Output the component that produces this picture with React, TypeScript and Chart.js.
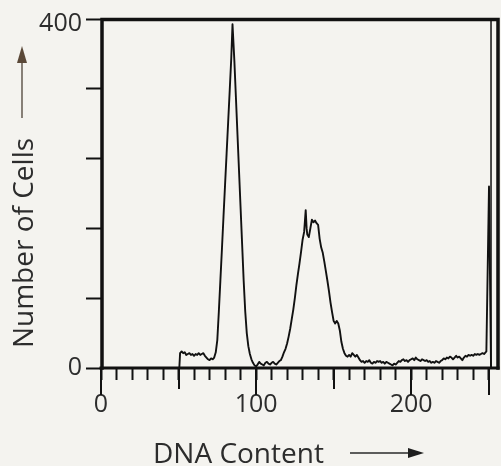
import { useEffect, useRef } from 'react';
import { Chart, registerables } from 'chart.js';

Chart.register(...registerables);

// ---- data ----
const dnaContent = [
  0, 50.5, 51, 52, 53, 54, 55, 56, 57, 58, 59, 60, 61, 62, 63, 64, 65, 66, 67, 68, 69, 70, 71, 72, 73, 74,
  75, 76, 77, 78, 79, 80, 81, 82, 83, 84, 84.8, 86, 87, 88, 89, 90, 91, 92, 93, 94, 95, 96, 97, 98, 99,
  100, 101, 102, 103, 104, 105, 106, 107, 108, 109, 110, 111, 112, 113, 114, 115,
  116, 117, 118, 119, 120, 121, 122, 123, 124, 125, 126, 127, 128, 129, 130, 131, 132, 132.6, 133, 134, 135,
  136, 137, 138, 139, 140, 141, 142, 143, 144, 145, 146, 147, 148, 149, 150, 151, 152, 153, 154, 155, 156,
  157, 158, 159, 160, 161, 162, 163, 164, 165, 166, 167,
  168, 169, 170, 171, 172, 173, 174, 175, 176, 177, 178, 179, 180, 181, 182, 183, 184, 185, 186, 187, 188,
  189, 190, 191, 192, 193, 194, 195, 196, 197, 198, 199, 200, 201, 202, 203, 204, 205, 206, 207, 208, 209,
  210, 211, 212, 213, 214, 215, 216, 217, 218, 219, 220, 221, 222, 223, 224, 225, 226, 227, 228, 229, 230,
  231, 232, 233, 234, 235, 236, 237, 238, 239, 240, 241, 242, 243, 244, 245, 246, 247, 248.5, 250.2, 251.5,
];
const cellCounts = [
  0, 0, 17, 19, 17, 18, 15, 16, 17, 15, 16, 14, 16, 15, 17, 15, 16, 17, 14, 12, 10, 9, 11, 10, 12, 18,
  32, 65, 101, 137, 174, 210, 246, 282, 318, 355, 394, 352, 310, 268, 226, 184, 142, 100, 65, 40, 25, 16, 10, 6, 3,
  2, 4, 7, 5, 4, 3, 6, 7, 5, 4, 6, 7, 5, 4, 6, 8,
  9, 13, 18, 22, 28, 36, 45, 56, 67, 80, 95, 108, 120, 133, 147, 156, 181, 160, 153, 150, 160,
  170, 167, 169, 166, 164, 148, 138, 132, 122, 111, 100, 88, 75, 64, 54, 51, 54, 51, 43, 30, 22,
  17, 14, 13, 15, 13, 17, 15, 13, 15, 12, 9,
  7, 8, 6, 8, 7, 9, 6, 5, 7, 6, 8, 7, 8, 6, 7, 5, 7, 6, 5, 4, 3,
  5, 4, 6, 8, 7, 9, 10, 8, 9, 7, 9, 10, 11, 9, 12, 10, 9, 8, 10, 9, 8,
  9, 7, 8, 6, 7, 6, 8, 7, 6, 8, 9, 11, 10, 12, 11, 13, 12, 10, 12, 14, 12,
  13, 11, 9, 12, 14, 13, 15, 14, 15, 14, 16, 15, 16, 15, 16, 17, 16, 19, 208, 0,
];

const xAxisMax = 256;
const yAxisMax = 400;
const xTickValues = [0, 10, 20, 30, 40, 50, 60, 70, 80, 90, 100, 110, 120, 130, 140, 150, 160, 170, 180, 190, 200, 210, 220, 230, 240, 250];
const xLabeledValues = [0, 100, 200];
const xLongTickValues = [0, 50, 100, 150, 200, 250];
const yTickValues = [0, 80, 160, 240, 320, 400];
const yLabeledValues = [0, 400];
const innerFrameValue = 251.5;
const xTitle = 'DNA Content';
const yTitle = 'Number of Cells';

// ---- styles ----
const BG = '#f4f3ef';
const INK = '#111111';
const TEXT = '#2c2c2c';
const FONT = '"Open Sans", "Noto Sans", sans-serif';

const decorPlugin = {
  id: 'decor',
  beforeDraw(chart: any) {
    const { ctx, width, height } = chart;
    ctx.save();
    ctx.fillStyle = BG;
    ctx.fillRect(0, 0, width, height);
    ctx.restore();
  },
  afterDraw(chart: any) {
    const { ctx, chartArea: a, scales } = chart;
    const xs = scales.x;
    ctx.save();
    ctx.strokeStyle = INK;
    ctx.lineCap = 'butt';

    // longer ticks every 50
    ctx.lineWidth = 2;
    xLongTickValues.forEach((v) => {
      const px = Math.round(xs.getPixelForValue(v));
      const len = xLabeledValues.includes(v) || v === 250 ? 27 : 21;
      ctx.beginPath();
      ctx.moveTo(px, a.bottom);
      ctx.lineTo(px, a.bottom + len);
      ctx.stroke();
    });

    // frame
    ctx.lineCap = 'square';
    ctx.lineWidth = 3.5;
    ctx.beginPath();
    ctx.moveTo(a.left + 1, a.bottom);
    ctx.lineTo(a.left + 1, a.top + 0.5);
    ctx.lineTo(a.right, a.top + 0.5);
    ctx.lineTo(a.right, a.bottom);
    ctx.stroke();
    ctx.lineWidth = 3;
    ctx.beginPath();
    ctx.moveTo(a.left, a.bottom);
    ctx.lineTo(a.right, a.bottom);
    ctx.stroke();

    // inner thin right frame line
    const ix = xs.getPixelForValue(innerFrameValue);
    ctx.lineCap = 'butt';
    ctx.lineWidth = 1.5;
    ctx.beginPath();
    ctx.moveTo(ix, a.top);
    ctx.lineTo(ix, a.bottom);
    ctx.stroke();

    // x title + arrow
    ctx.fillStyle = TEXT;
    ctx.font = `28px ${FONT}`;
    ctx.textAlign = 'left';
    ctx.textBaseline = 'alphabetic';
    const tx = a.left + 52;
    const ty = a.bottom + 95;
    ctx.fillText(xTitle, tx, ty);
    const ax0 = 350, ax1 = 424, ay = ty - 10;
    ctx.strokeStyle = '#2a2a2a';
    ctx.lineWidth = 1.6;
    ctx.beginPath();
    ctx.moveTo(ax0, ay);
    ctx.lineTo(ax1 - 12, ay);
    ctx.stroke();
    ctx.fillStyle = '#1e1e1e';
    ctx.beginPath();
    ctx.moveTo(ax1, ay);
    ctx.lineTo(ax1 - 16, ay - 5);
    ctx.lineTo(ax1 - 16, ay + 5);
    ctx.closePath();
    ctx.fill();

    // y title + arrow
    ctx.save();
    ctx.translate(33, 243);
    ctx.rotate(-Math.PI / 2);
    ctx.fillStyle = TEXT;
    ctx.font = `28px ${FONT}`;
    ctx.textAlign = 'center';
    ctx.textBaseline = 'alphabetic';
    ctx.fillText(yTitle, 0, 0);
    ctx.restore();
    const yx = 22;
    ctx.strokeStyle = '#6b6259';
    ctx.lineWidth = 1.6;
    ctx.beginPath();
    ctx.moveTo(yx, 118);
    ctx.lineTo(yx, 60);
    ctx.stroke();
    ctx.fillStyle = '#5a4838';
    ctx.beginPath();
    ctx.moveTo(yx, 46);
    ctx.lineTo(yx - 5, 63);
    ctx.lineTo(yx + 5, 63);
    ctx.closePath();
    ctx.fill();

    ctx.restore();
  },
};

export default function App() {
  const canvasRef = useRef<HTMLCanvasElement | null>(null);

  useEffect(() => {
    if (!canvasRef.current) return;
    const points = dnaContent.map((x, i) => ({ x, y: cellCounts[i] }));
    const chart = new Chart(canvasRef.current, {
      type: 'line',
      data: {
        datasets: [
          {
            data: points,
            borderColor: INK,
            borderWidth: 1.9,
            pointRadius: 0,
            tension: 0,
            fill: false,
            borderJoinStyle: 'round',
          } as any,
        ],
      },
      options: {
        responsive: false,
        animation: false,
        devicePixelRatio: 1,
        parsing: false,
        layout: { padding: { left: 0, right: 3, top: 19, bottom: 0 } },
        plugins: {
          legend: { display: false },
          tooltip: { enabled: false },
        },
        scales: {
          x: {
            type: 'linear',
            min: 0,
            max: xAxisMax,
            afterBuildTicks: (s: any) => {
              s.ticks = xTickValues.map((v) => ({ value: v }));
            },
            afterFit: (s: any) => {
              s.height = 98;
            },
            border: { display: false },
            grid: {
              drawOnChartArea: false,
              drawTicks: true,
              tickLength: 12,
              tickWidth: 2,
              tickColor: INK,
            },
            ticks: {
              autoSkip: false,
              maxRotation: 0,
              padding: 10,
              color: TEXT,
              font: { family: FONT, size: 25 },
              callback: (v: any) => (xLabeledValues.includes(Number(v)) ? String(v) : ''),
            },
          },
          y: {
            type: 'linear',
            min: 0,
            max: yAxisMax,
            afterBuildTicks: (s: any) => {
              s.ticks = yTickValues.map((v) => ({ value: v }));
            },
            afterFit: (s: any) => {
              s.width = 101;
            },
            border: { display: false },
            grid: {
              drawOnChartArea: false,
              drawTicks: true,
              tickLength: 15,
              tickWidth: 2,
              tickColor: INK,
            },
            ticks: {
              autoSkip: false,
              padding: 4,
              color: TEXT,
              font: { family: FONT, size: 25, lineHeight: '10px' },
              callback: (v: any) => {
                const n = Number(v);
                if (!yLabeledValues.includes(n)) return '';
                // the top label sits a little below its tick in the reference
                return n === yAxisMax ? ['', String(n)] : String(n);
              },
            },
          },
        },
      },
      plugins: [decorPlugin],
    });
    return () => chart.destroy();
  }, []);

  return (
    <div style={{ position: 'absolute', left: 0, top: 0, width: 501, height: 466, background: BG }}>
      <canvas ref={canvasRef} width={501} height={466} style={{ display: 'block' }} />
    </div>
  );
}
